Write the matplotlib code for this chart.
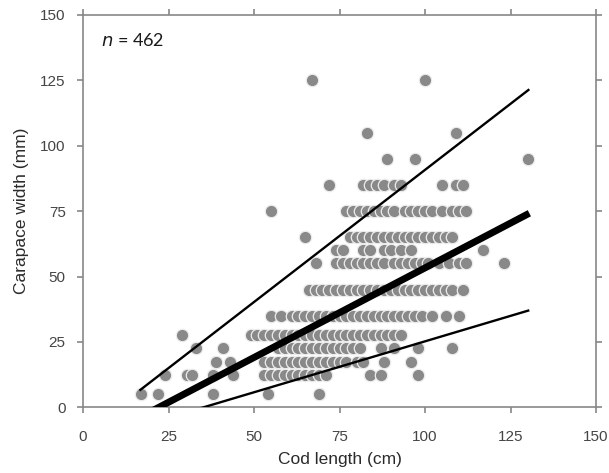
import matplotlib
matplotlib.use("Agg")
import matplotlib.pyplot as plt
import numpy as np

# ---- data ----
row_125 = [67, 100]
row_105 = [83, 109]
row_95 = [89, 97, 130]
row_85 = [72, 82, 84, 86, 88, 91, 93, 105, 109, 111]
row_75 = [55, 77, 79, 81, 83, 85, 87, 89, 91, 94, 96, 98, 100, 102, 105, 108, 110, 112]
row_65 = [65, 78, 80, 82, 84, 86, 88, 90, 92, 94, 96, 98, 100, 102, 104, 106, 108]
row_60 = [74, 76, 82, 84, 88, 90, 93, 96, 117]
row_55 = [68, 74, 76, 78, 80, 82, 84, 86, 88, 91, 93, 95, 97, 99, 101, 104, 107, 110, 112, 123]
row_45 = [66, 68, 70, 72, 74, 76, 78, 80, 82, 84, 86, 88, 90, 92, 94, 96, 98, 100, 102, 104, 106, 108, 111]
row_35 = [55, 58, 61, 63, 65, 67, 69, 71, 73, 75, 77, 79, 81, 83, 85, 87, 89, 91, 93, 95, 97, 99, 102, 106, 110]
row_27 = [29, 49, 51, 53, 55, 57, 59, 61, 63, 65, 67, 69, 71, 73, 75, 77, 79, 81, 83, 85, 87, 89, 91, 93]
row_22 = [33, 41, 57, 59, 61, 63, 65, 67, 69, 71, 73, 75, 77, 79, 81, 87, 91, 98, 108]
row_17 = [39, 43, 53, 55, 57, 59, 61, 63, 65, 67, 69, 71, 73, 75, 77, 80, 82, 88, 96]
row_12 = [24, 30.5, 32, 38, 44, 53, 55, 57, 59, 61, 63, 65, 67, 69, 71, 84, 87, 98]
row_5 = [17, 22, 38, 54, 69]

rows = {125: row_125, 105: row_105, 95: row_95, 85: row_85, 75: row_75,
        65: row_65, 60: row_60, 55: row_55, 45: row_45, 35: row_35,
        27.5: row_27, 22.5: row_22, 17.5: row_17, 12.5: row_12, 5: row_5}

line_x = [16.5, 130.5]
upper_y = [6.4, 121.6]
median_y = [-3.9, 74.2]
lower_y = [-7.3, 37.1]

x_ticks = [0, 25, 50, 75, 100, 125, 150]
y_ticks = [0, 25, 50, 75, 100, 125, 150]

cod_len = []
cara_w = []
for yv, xs in rows.items():
    for xv in xs:
        cod_len.append(xv)
        cara_w.append(yv)

# ---- figure ----
fig = plt.figure(figsize=(6.09, 4.73), dpi=100)
ax = fig.add_axes([0.1363, 0.1389, 0.8424, 0.8294])

ax.scatter(cod_len, cara_w, s=80, c="#898989", edgecolors="#ededed",
           linewidths=0.9, zorder=2)

ax.plot(line_x, upper_y, color="black", lw=1.7, zorder=3, solid_capstyle="butt")
ax.plot(line_x, median_y, color="black", lw=5, zorder=3, solid_capstyle="butt")
ax.plot(line_x, lower_y, color="black", lw=1.7, zorder=3, solid_capstyle="butt")

ax.set_xlim(0, 150)
ax.set_ylim(0, 150)
ax.set_xticks(x_ticks)
ax.set_yticks(y_ticks)

spine_col = "#878787"
for s in ax.spines.values():
    s.set_color(spine_col)
    s.set_linewidth(1.2)
ax.tick_params(axis="both", which="both", direction="out", length=4, width=1.2,
               color=spine_col, labelsize=11, labelcolor="#454545",
               top=True, right=True, labeltop=False, labelright=False)
ax.tick_params(axis="x", pad=12)
ax.tick_params(axis="y", pad=8.5)
for lab in ax.get_xticklabels() + ax.get_yticklabels():
    lab.set_family(["Liberation Sans", "DejaVu Sans"])

ax.set_xlabel("Cod length (cm)", fontsize=12.5, color="#2a2a2a",
              family=["Liberation Sans", "DejaVu Sans"], labelpad=6)
ax.set_ylabel("Carapace width (mm)", fontsize=12.5, color="#2a2a2a",
              family=["Liberation Sans", "DejaVu Sans"], labelpad=8)

ax.text(0.036, 0.936, r"$\it{n}$ = 462", transform=ax.transAxes, fontsize=13,
        family=["Lato", "DejaVu Sans"], color="#1a1a1a", va="center", ha="left")

fig.savefig("out.png", dpi=100)
